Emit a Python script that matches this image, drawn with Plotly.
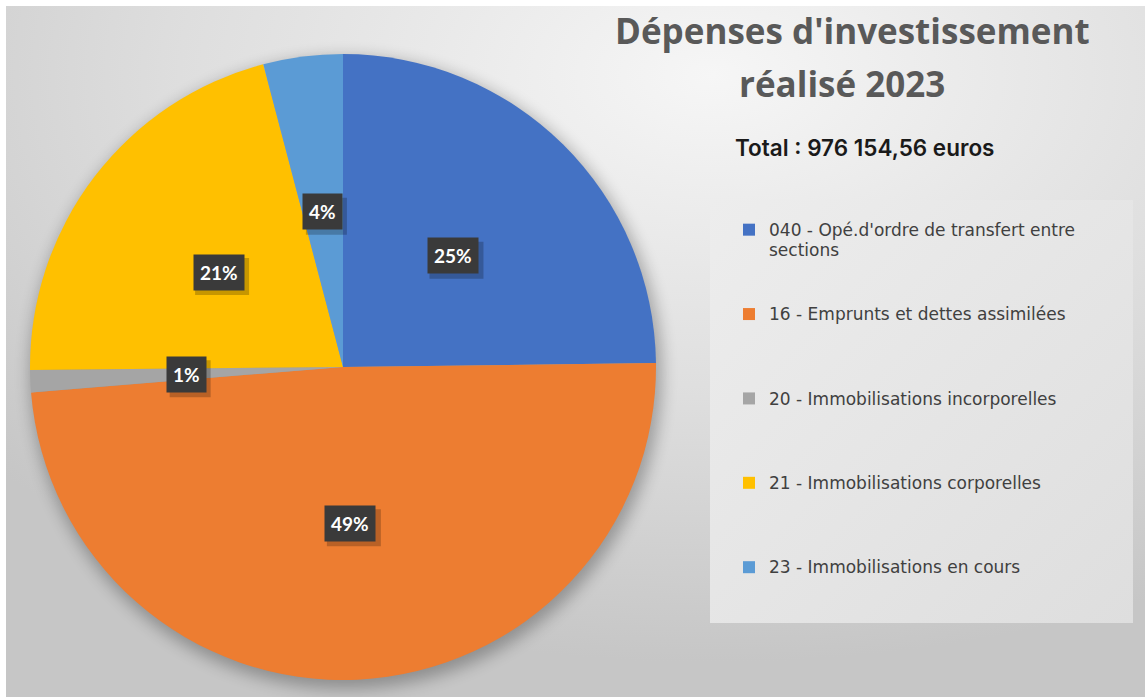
import base64
import math
import plotly.graph_objects as go

# ---------------- data ----------------
categories = [
    "040 - Opé.d'ordre de transfert entre sections",
    "16 - Emprunts et dettes assimilées",
    "20 - Immobilisations incorporelles",
    "21 - Immobilisations corporelles",
    "23 - Immobilisations en cours",
]
legend_lines = [
    ["040 - Opé.d'ordre de transfert entre", "sections"],
    ["16 - Emprunts et dettes assimilées"],
    ["20 - Immobilisations incorporelles"],
    ["21 - Immobilisations corporelles"],
    ["23 - Immobilisations en cours"],
]
shares = [24.8, 48.9, 1.15, 21.05, 4.1]          # % of total
slice_colors = ["#4472C4", "#ED7D31", "#A5A5A5", "#FFC000", "#5B9BD5"]
title_lines = ["Dépenses d'investissement", "réalisé 2023"]
total_text = "Total : 976 154,56 euros"

# ---------------- geometry / style ----------------
W, H = 1145, 697
CX, CY, R = 343, 367, 313      # pie centre / radius in px

bg_svg = f"""<svg xmlns='http://www.w3.org/2000/svg' width='{W}' height='{H}' viewBox='0 0 {W} {H}'>
<defs>
<radialGradient id='g' cx='0.62' cy='0.10' r='0.85'>
<stop offset='0' stop-color='#f6f6f6'/><stop offset='0.55' stop-color='#dedede'/><stop offset='1' stop-color='#c6c6c6'/>
</radialGradient>
<linearGradient id='lg' x1='0' y1='0' x2='1' y2='1'>
<stop offset='0' stop-color='#ededed'/><stop offset='1' stop-color='#dedede'/>
</linearGradient>
<filter id='b' x='-20%' y='-20%' width='140%' height='140%'><feGaussianBlur stdDeviation='8'/></filter>
</defs>
<rect width='{W}' height='{H}' fill='#ffffff'/>
<rect x='6' y='6' width='{W-6}' height='{H-6}' fill='url(#g)'/>
<circle cx='{CX+3}' cy='{CY+6}' r='{R+3}' fill='#000' opacity='0.28' filter='url(#b)'/>
<rect x='710' y='200' width='423' height='423' fill='url(#lg)'/>
</svg>"""
bg_uri = "data:image/svg+xml;base64," + base64.b64encode(bg_svg.encode("utf-8")).decode("ascii")

n_lines = 4
legend_labels = [
    "<br>".join([f"<span style='font-size:17px'>{t}</span>" for t in l] + [" "] * (n_lines - len(l)))
    for l in legend_lines
]

fig = go.Figure(
    go.Pie(
        labels=legend_labels,
        values=shares,
        sort=False,
        direction="clockwise",
        rotation=0,
        marker=dict(colors=slice_colors, line=dict(width=0)),
        textinfo="none",
        hoverinfo="skip",
        domain=dict(
            x=[(CX - R) / W, (CX + R) / W],
            y=[1 - (CY + R) / H, 1 - (CY - R) / H],
        ),
    )
)

# data labels at half radius, centred on each slice
annotations = []
shapes = []
total = sum(shares)
cum = 0.0
for s in shares:
    mid = (cum + s / 2) / total
    cum += s
    th = 2 * math.pi * mid
    px = CX + 0.5 * R * math.sin(th)
    py = CY - 0.5 * R * math.cos(th)
    txt = f"{round(s / total * 100):d}%"
    half_w = (13 * len(txt) + 14) / 2
    half_h = 18
    # soft drop shadow behind the label box
    shapes.append(dict(type="rect", xref="paper", yref="paper",
                       xsizemode="pixel", ysizemode="pixel",
                       xanchor=px / W, yanchor=1 - py / H,
                       x0=-half_w + 3, x1=half_w + 4, y0=-half_h - 5, y1=half_h - 4,
                       fillcolor="rgba(0,0,0,0.22)", line=dict(width=0), layer="above"))
    annotations.append(dict(text=txt, xref="paper", yref="paper", x=px / W, y=1 - py / H,
                            xanchor="center", yanchor="middle", showarrow=False, borderpad=6,
                            bgcolor="#3a3a3a",
                            font=dict(family="Lato", size=19, color="#ffffff", weight="bold")))

title_font = dict(family="Open Sans", size=35, color="#595959", weight="bold")
annotations.append(dict(text=title_lines[0], xref="paper", yref="paper", x=852 / W, y=1 - 30 / H,
                        xanchor="center", yanchor="middle", showarrow=False, font=title_font))
annotations.append(dict(text=title_lines[1], xref="paper", yref="paper", x=842 / W, y=1 - 83 / H,
                        xanchor="center", yanchor="middle", showarrow=False, font=title_font))
annotations.append(dict(text=total_text, xref="paper", yref="paper", x=864 / W, y=1 - 147 / H,
                        xanchor="center", yanchor="middle", showarrow=False,
                        font=dict(family="Inter", size=22.5, color="#1a1a1a", weight=600)))

fig.update_layout(
    width=W, height=H,
    margin=dict(l=0, r=0, t=0, b=0),
    paper_bgcolor="#ffffff",
    plot_bgcolor="rgba(0,0,0,0)",
    images=[dict(source=bg_uri, xref="paper", yref="paper", x=0, y=1, sizex=1, sizey=1,
                 xanchor="left", yanchor="top", sizing="stretch", layer="below")],
    showlegend=True,
    legend=dict(
        x=729 / W, y=1 - 213 / H, xanchor="left", yanchor="top",
        bgcolor="rgba(0,0,0,0)", borderwidth=0,
        font=dict(family="DejaVu Sans", size=15.65, color="#404040"),
        valign="top", traceorder="normal",
    ),
    shapes=shapes,
    annotations=annotations,
)

fig.write_html("out.html", config={"displayModeBar": False},
               post_script="document.body.style.margin='0';")
